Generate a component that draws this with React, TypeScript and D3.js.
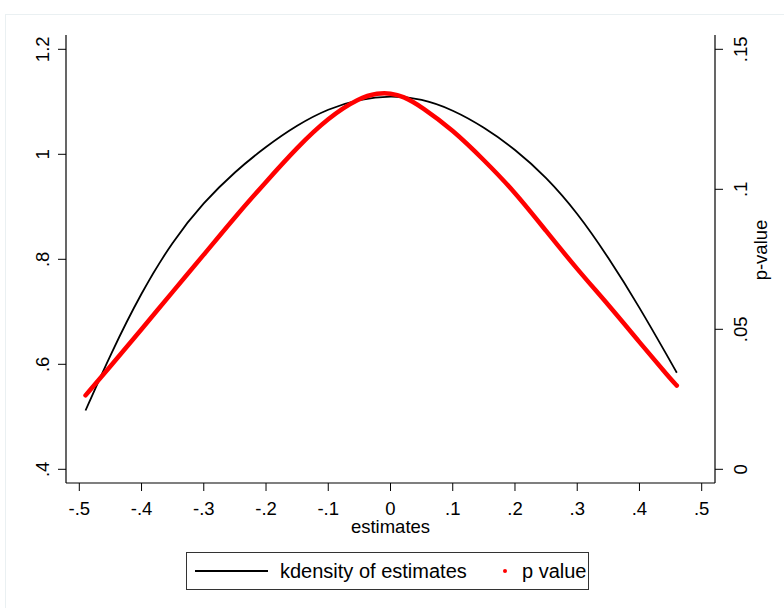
import React from "react";
import * as d3 from "d3";

// kdensity of estimates (left axis)
const kdX = [-0.49, -0.45, -0.40, -0.35, -0.30, -0.25, -0.20, -0.15, -0.10, -0.05, 0.00, 0.05, 0.10, 0.15, 0.20, 0.25, 0.30, 0.35, 0.40, 0.45, 0.46];
const kdY = [0.512, 0.619, 0.738, 0.835, 0.909, 0.967, 1.015, 1.056, 1.087, 1.105, 1.112, 1.106, 1.085, 1.052, 1.010, 0.957, 0.889, 0.804, 0.709, 0.605, 0.584];

// p value (right axis)
const pX = [-0.49, -0.45, -0.40, -0.35, -0.30, -0.25, -0.20, -0.15, -0.10, -0.05, -0.02, 0.00, 0.02, 0.05, 0.10, 0.15, 0.20, 0.25, 0.30, 0.35, 0.40, 0.45, 0.46];
const pY = [0.0264, 0.0368, 0.0500, 0.0634, 0.0766, 0.0901, 0.1027, 0.1150, 0.1256, 0.1327, 0.1344, 0.1343, 0.1333, 0.1295, 0.1212, 0.1105, 0.0990, 0.0851, 0.0714, 0.0588, 0.0454, 0.0322, 0.0299];

const xTicks = [-0.5, -0.4, -0.3, -0.2, -0.1, 0, 0.1, 0.2, 0.3, 0.4, 0.5];
const xTickLabels = ["-.5", "-.4", "-.3", "-.2", "-.1", "0", ".1", ".2", ".3", ".4", ".5"];
const yLTicks = [0.4, 0.6, 0.8, 1.0, 1.2];
const yLTickLabels = [".4", ".6", ".8", "1", "1.2"];
const yRTicks = [0, 0.05, 0.1, 0.15];
const yRTickLabels = ["0", ".05", ".1", ".15"];

const FONT = "'Liberation Sans', Arial, sans-serif";

export default function App() {
  const W = 784, H = 608;
  const left = 66, right = 715, top = 35, bottom = 483;
  const x = d3.scaleLinear().domain([-0.5, 0.5]).range([79.3, 701.7]);
  const yL = d3.scaleLinear().domain([0.4, 1.2]).range([469.3, 49.3]);
  const yR = d3.scaleLinear().domain([0, 0.15]).range([469.3, 49.3]);

  const kdLine = d3.line<number>().x((_, i) => x(kdX[i])).y((d) => yL(d)).curve(d3.curveBasis)(kdY) || "";
  const pLine = d3.line<number>().x((_, i) => x(pX[i])).y((d) => yR(d)).curve(d3.curveBasis)(pY) || "";

  const fs = 18.5;
  return (
    <svg width={W} height={H} style={{ position: "absolute", left: 0, top: 0, display: "block" }} fontFamily={FONT}>
      <rect x={0} y={0} width={W} height={H} fill="#ffffff" />
      <rect x={5.5} y={14.5} width={W + 10} height={H + 10} fill="#ffffff" stroke="#eaf0f2" strokeWidth={1} />
      {/* axes */}
      <line x1={left} x2={left} y1={top} y2={bottom} stroke="#000" strokeWidth={1.2} />
      <line x1={right} x2={right} y1={top} y2={bottom} stroke="#000" strokeWidth={1.2} />
      <line x1={left} x2={right} y1={bottom} y2={bottom} stroke="#000" strokeWidth={1.2} />
      {xTicks.map((t, i) => (
        <g key={"x" + i}>
          <line x1={x(t)} x2={x(t)} y1={bottom} y2={bottom + 8} stroke="#000" strokeWidth={1} />
          <text x={x(t)} y={515} textAnchor="middle" fontSize={fs} fill="#000">{xTickLabels[i]}</text>
        </g>
      ))}
      {yLTicks.map((t, i) => (
        <g key={"yl" + i}>
          <line x1={left - 8} x2={left} y1={yL(t)} y2={yL(t)} stroke="#000" strokeWidth={1} />
          <text transform={`translate(${48.5},${yL(t)}) rotate(-90)`} textAnchor="middle" fontSize={fs} fill="#000">{yLTickLabels[i]}</text>
        </g>
      ))}
      {yRTicks.map((t, i) => (
        <g key={"yr" + i}>
          <line x1={right} x2={right + 8} y1={yR(t)} y2={yR(t)} stroke="#000" strokeWidth={1} />
          <text transform={`translate(${747},${yR(t)}) rotate(-90)`} textAnchor="middle" fontSize={fs} fill="#000">{yRTickLabels[i]}</text>
        </g>
      ))}
      <text x={390.5} y={533} textAnchor="middle" fontSize={fs} fill="#000">estimates</text>
      <text transform={`translate(${767},${250}) rotate(-90)`} textAnchor="middle" fontSize={fs} fill="#000">p-value</text>
      {/* series */}
      <path d={kdLine} fill="none" stroke="#000" strokeWidth={1.8} />
      <path d={pLine} fill="none" stroke="#ff0000" strokeWidth={4.5} strokeLinecap="round" strokeLinejoin="round" />
      {/* legend */}
      <rect x={186.5} y={552.5} width={402} height={37} fill="#fff" stroke="#333" strokeWidth={1} />
      <line x1={195} x2={268} y1={571} y2={571} stroke="#000" strokeWidth={2} />
      <text x={280} y={578} fontSize={20} fill="#000">kdensity of estimates</text>
      <circle cx={505} cy={571} r={2} fill="#ff0000" />
      <text x={522} y={578} fontSize={20} fill="#000">p value</text>
    </svg>
  );
}
